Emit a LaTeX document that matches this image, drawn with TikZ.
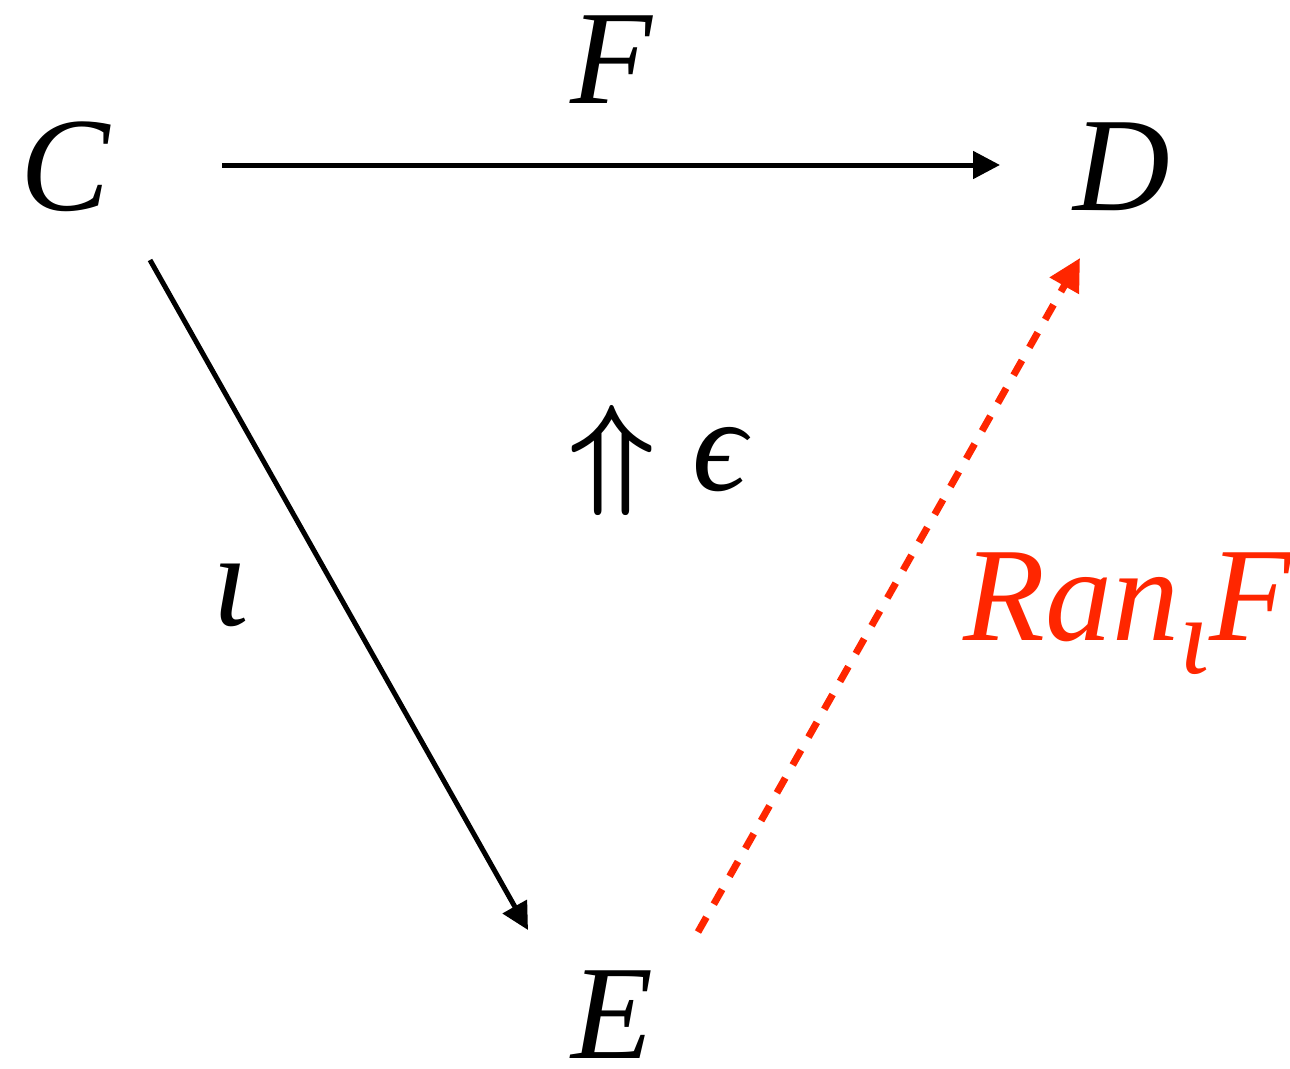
\documentclass[tikz,border=0pt]{standalone}
\usepackage{amsmath}
\usepackage{fontspec}
\setmainfont{Liberation Serif}[ItalicFont=Liberation Serif Italic]
\usetikzlibrary{arrows.meta,calc}
\definecolor{ranred}{HTML}{FF2600}
\begin{document}
\begin{tikzpicture}[x=1pt,y=-1pt,
  lbl/.style={inner sep=0pt,font=\fontsize{134}{160}\selectfont\itshape},
  arr/.style={line width=5pt,-{Triangle[length=27pt,width=27pt]}},
  ran/.style={draw=ranred,line width=7pt,dash pattern=on 17pt off 15pt,-{Triangle[length=32pt,width=32pt,fill=ranred]}}]
\useasboundingbox (0,0) rectangle (1290,1068);
\node[lbl] (C) at (65,167) {C};
\node[lbl] (D) at (1122,167) {D};
\node[lbl] (E) at (612,1015) {E};
\node[lbl,anchor=base west] (F) at (570,103) {F};
\node[lbl,anchor=base west] (iota) at (212,625) {ι};
\node[inner sep=0pt] (U) at (612,460) {\scalebox{12.4}{$\boldsymbol{\Uparrow}$}};
\node[lbl,anchor=base west] (eps) at (692,490) {ϵ};
\node[lbl,text=ranred,anchor=base west] (R) at (963,640) {Ran\raisebox{-33pt}{\fontsize{110}{120}\selectfont ι}F};
\draw[arr] ($(C)+(157,-2)$) -- ($(D)+(-122,-2)$);
\draw[arr] ($(C)+(85,93)$) -- ($(E)+(-84,-85)$);
\draw[ran] ($(E)+(86,-83)$) -- ($(D)+(-42,91)$);
\end{tikzpicture}
\end{document}
